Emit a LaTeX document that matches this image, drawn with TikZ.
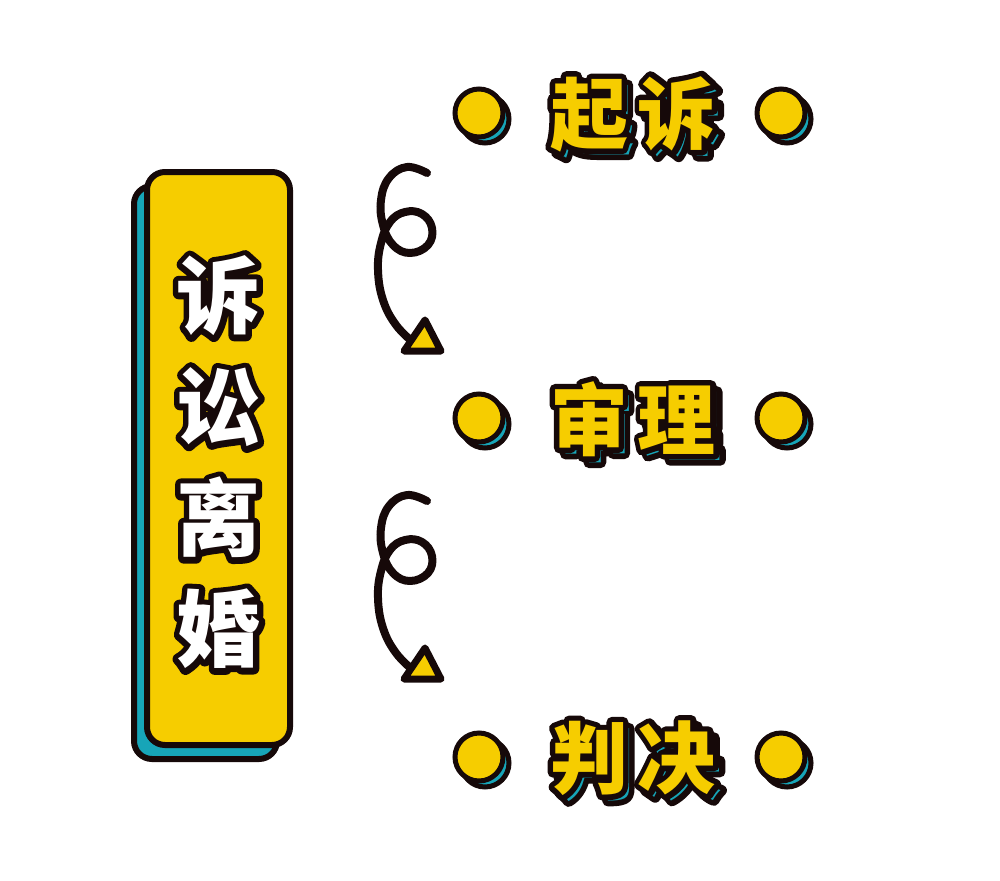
\documentclass[tikz,border=0pt]{standalone}
\usepackage{fontspec}
\newfontfamily\cjk{Noto Sans CJK SC}
\newfontfamily\cjkgras{Noto Sans CJK SC}[BoldFeatures={FakeBold=14}]
\newcommand\bord[2]{\mbox{\rlap{\cjkgras\bfseries\color{encre}#2}\cjk\bfseries\color{#1}#2}}
\definecolor{jaune}{HTML}{F6CD00}
\definecolor{sarcelle}{HTML}{17A5B8}
\definecolor{encre}{HTML}{160909}
\tikzset{
  boite/.style={draw=encre, line width=6pt, rounded corners=18pt, minimum width=143pt, minimum height=573pt, inner sep=0pt},
  pastille/.style={circle, draw=encre, line width=5pt, minimum size=48pt, inner sep=0pt},
  etiquette/.style={inner sep=0pt, line join=round, font=\fontsize{78}{78}\selectfont},
  fleche/.style={draw=encre, line width=8pt, line cap=round, line join=round},
  boucle/.pic={
    \draw[fleche] plot[smooth, tension=0.7] coordinates {(0,0) (-20,-6) (-38,5) (-46,27) (-44,52) (-34,72) (-17,80) (1,72) (5,55) (-5,41) (-22,39) (-37,49) (-46,70) (-49,97) (-44,127) (-31,152) (-13,170)};
    \draw[fleche, line width=7pt, fill=jaune] (-2,147) -- (14,178) -- (-23,178) -- cycle;
  }
}
\begin{document}
\begin{tikzpicture}[x=1pt,y=-1pt]
\useasboundingbox (0,0) rectangle (1000,880);
% titre
\node[boite, fill=sarcelle] (ombre) at (205.5,472.5) {};
\node[boite, fill=jaune] (titre) at (218.5,458.5) {};
\node[align=center, inner sep=0pt, line join=round, font=\fontsize{84}{111}\selectfont] (mots) at ([yshift=-4pt]titre.center) {\bord{white}{诉}\\\bord{white}{讼}\\\bord{white}{离}\\\bord{white}{婚}};
% etapes
\foreach \nom/\y/\a/\b in {qisu/114/起/诉, shenli/419/审/理, panjue/758/判/决}{
  \node[pastille, fill=sarcelle] (\nom-og) at (485,\y+5) {};
  \node[pastille, fill=jaune] (\nom-g) at (479,\y-1) {};
  \node[pastille, fill=sarcelle] (\nom-od) at (787,\y+5) {};
  \node[pastille, fill=jaune] (\nom-d) at (781,\y-1) {};
  \node[etiquette] (\nom-o) at (639,\y+6) {\bord{sarcelle}{\a\hspace{10pt}\b}};
  \node[etiquette] (\nom) at (633,\y) {\bord{jaune}{\a\hspace{10pt}\b}};
}
% fleches
\coordinate (depart1) at (427,173);
\coordinate (depart2) at (427,501);
\pic at (depart1) {boucle};
\pic at (depart2) {boucle};
\end{tikzpicture}
\end{document}
